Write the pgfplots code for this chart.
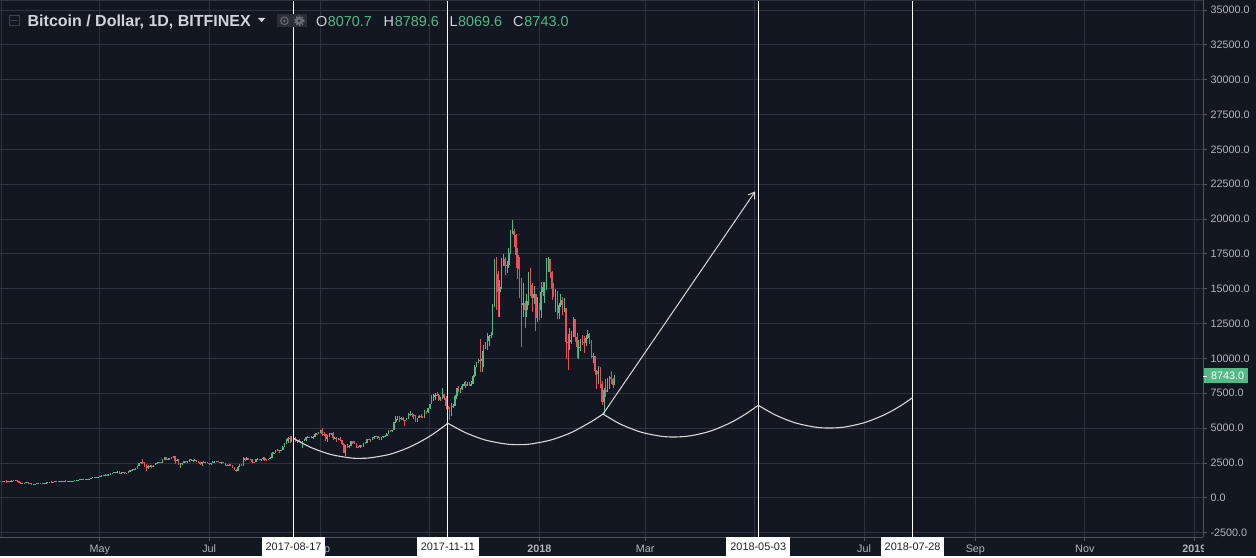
\documentclass[border=0pt]{standalone}
\usepackage{pgfplots}
\pgfplotsset{compat=1.18}
\usepackage{pgfplotstable}
\usepackage{fontspec}
\setmainfont{Liberation Sans}
\usetikzlibrary{arrows.meta}
\definecolor{bg}{HTML}{131722}
\definecolor{gridc}{HTML}{2F3340}
\definecolor{up}{HTML}{53B987}
\definecolor{dn}{HTML}{EB4D5C}
\definecolor{lbl}{HTML}{B2B5BE}
\definecolor{ttl}{HTML}{D1D4DC}
\definecolor{scl}{HTML}{50535E}
\definecolor{arcc}{HTML}{D8D8D8}
\definecolor{boxt}{HTML}{1E222D}
\definecolor{icon}{HTML}{2A2E39}
\definecolor{iconf}{HTML}{6A6D78}

\pgfplotstableread{
d o h l c
-300 1230 1280 1150 1200
-299 1200 1210 1140 1160
-298 1160 1200 1150 1190
-297 1190 1300 1060 1120
-296 1120 1200 1110 1180
-295 1180 1240 1170 1230
-294 1230 1250 1210 1240
-293 1240 1260 1230 1245
-292 1245 1260 1235 1255
-291 1255 1260 1150 1170
-290 1170 1180 1060 1080
-289 1080 1100 960 1000
-288 1000 1060 990 1040
-287 1040 1070 1030 1060
-286 1060 1130 1050 1120
-285 1120 1130 1020 1050
-284 1050 1060 1030 1040
-283 1040 1045 930 960
-282 960 1000 920 990
-281 990 1010 970 1000
-280 1000 1060 990 1050
-279 1050 1070 1030 1060
-278 1060 1070 1030 1050
-277 1050 1060 1030 1045
-276 1045 1090 1040 1085
-275 1085 1100 1070 1095
-274 1095 1110 1080 1100
-273 1100 1160 1090 1150
-272 1150 1170 1120 1140
-271 1140 1150 1110 1130
-270 1130 1200 1125 1195
-269 1195 1210 1180 1190
-268 1190 1200 1170 1185
-267 1185 1220 1180 1210
-266 1210 1225 1200 1215
-265 1215 1240 1210 1235
-264 1235 1245 1220 1230
-263 1230 1240 1180 1195
-262 1195 1220 1190 1210
-261 1210 1230 1200 1220
-260 1220 1230 1210 1225
-259 1225 1250 1210 1245
-258 1245 1270 1240 1265
-257 1265 1290 1260 1285
-256 1285 1330 1280 1320
-255 1320 1350 1310 1340
-254 1340 1350 1300 1335
-253 1335 1350 1310 1340
-252 1340 1360 1320 1350
-251 1350 1380 1340 1375
-250 1375 1430 1370 1420
-249 1420 1480 1410 1470
-248 1470 1490 1420 1450
-247 1450 1480 1440 1470
-246 1470 1510 1460 1500
-245 1500 1600 1480 1580
-244 1580 1620 1560 1600
-243 1600 1650 1580 1640
-242 1640 1700 1600 1650
-241 1650 1680 1580 1620
-240 1620 1680 1600 1670
-239 1670 1750 1650 1720
-238 1720 1800 1700 1790
-237 1790 1850 1770 1820
-236 1820 1880 1800 1860
-235 1860 1920 1820 1880
-234 1880 1890 1720 1760
-233 1760 1830 1700 1810
-232 1810 1840 1780 1820
-231 1820 1830 1700 1760
-230 1760 1800 1720 1780
-229 1780 1900 1770 1880
-228 1880 1980 1860 1960
-227 1960 2050 1950 2030
-226 2030 2100 2010 2090
-225 2090 2150 2050 2100
-224 2100 2300 2050 2250
-223 2250 2500 2250 2480
-222 2480 2600 2450 2580
-221 2580 2800 2400 2550
-220 2550 2600 2200 2350
-219 2350 2400 1950 2150
-218 2150 2380 2100 2280
-217 2280 2350 2200 2300
-216 2300 2350 2150 2200
-215 2200 2350 2180 2330
-214 2330 2500 2320 2480
-213 2480 2550 2450 2530
-212 2530 2600 2500 2560
-211 2560 2580 2500 2540
-210 2540 2750 2530 2730
-209 2730 2950 2720 2900
-208 2900 2920 2700 2720
-207 2720 2830 2680 2800
-206 2800 2850 2770 2820
-205 2820 2920 2800 2900
-204 2900 3000 2850 2980
-203 2980 2990 2400 2650
-202 2650 2780 2620 2700
-201 2700 2800 2350 2450
-200 2450 2500 2150 2470
-199 2470 2520 2350 2500
-198 2500 2650 2480 2630
-197 2630 2650 2500 2550
-196 2550 2650 2530 2620
-195 2620 2780 2600 2750
-194 2750 2800 2620 2680
-193 2680 2730 2600 2700
-192 2700 2750 2680 2710
-191 2710 2720 2550 2600
-190 2600 2650 2500 2550
-189 2550 2580 2350 2450
-188 2450 2600 2300 2590
-187 2590 2620 2500 2570
-186 2570 2600 2520 2550
-185 2550 2560 2470 2480
-184 2480 2500 2380 2420
-183 2420 2520 2380 2500
-182 2500 2620 2480 2570
-181 2570 2650 2550 2600
-180 2600 2640 2550 2620
-179 2620 2640 2580 2600
-178 2600 2600 2480 2500
-177 2500 2560 2450 2550
-176 2550 2560 2480 2490
-175 2490 2500 2300 2330
-174 2330 2400 2250 2310
-173 2310 2400 2250 2380
-172 2380 2400 2320 2340
-171 2340 2350 2150 2200
-170 2200 2210 1980 1990
-169 1990 2050 1850 1950
-168 1950 2250 1950 2230
-167 2230 2400 2200 2350
-166 2350 2450 2300 2330
-165 2330 2900 2300 2850
-164 2850 2850 2620 2700
-163 2700 2900 2700 2850
-162 2850 2860 2700 2780
-161 2780 2800 2700 2750
-160 2750 2780 2500 2580
-159 2580 2600 2480 2570
-158 2570 2800 2570 2750
-157 2750 2850 2730 2800
-156 2800 2820 2700 2740
-155 2740 2780 2650 2760
-154 2760 2900 2740 2870
-153 2870 2930 2650 2730
-152 2730 2760 2650 2700
-151 2700 2820 2700 2800
-150 2800 2900 2780 2870
-149 2870 3300 2870 3250
-148 3250 3280 3180 3220
-147 3220 3420 3200 3400
-146 3400 3480 3350 3420
-145 3420 3430 3250 3360
-144 3360 3450 3330 3420
-143 3420 3700 3400 3650
-142 3650 3950 3620 3880
-141 3880 4200 3850 4070
-140 4070 4330 3950 4320
-139 4320 4400 3900 4200
-138 4200 4400 4000 4380
-137 4380 4480 4250 4300
-136 4300 4380 3980 4120
-135 4120 4180 3950 4150
-134 4150 4200 4050 4080
-133 4080 4100 3950 4020
-132 4020 4100 3600 4100
-131 4100 4250 4080 4150
-130 4150 4350 4100 4330
-129 4330 4470 4330 4360
-128 4360 4380 4300 4340
-127 4340 4400 4330 4370
-126 4370 4400 4200 4380
-125 4380 4650 4350 4600
-124 4600 4650 4500 4580
-123 4580 4750 4580 4700
-122 4700 4900 4680 4880
-121 4880 4980 4400 4600
-120 4600 4720 4450 4580
-119 4580 4600 4100 4250
-118 4250 4500 4000 4400
-117 4400 4650 4380 4600
-116 4600 4680 4500 4620
-115 4620 4700 4150 4300
-114 4300 4350 4200 4320
-113 4320 4330 4000 4200
-112 4200 4300 4150 4220
-111 4220 4350 4050 4150
-110 4150 4150 3800 3880
-109 3880 3900 3250 3250
-108 3250 3800 3000 3700
-107 3700 3850 3550 3690
-106 3690 3780 3550 3700
-105 3700 4100 3700 4080
-104 4080 4100 3850 3920
-103 3920 4050 3850 3900
-102 3900 3900 3600 3620
-101 3620 3750 3550 3610
-100 3610 3800 3600 3780
-99 3780 3800 3650 3680
-98 3680 3950 3680 3930
-97 3930 3980 3880 3900
-96 3900 4230 3900 4200
-95 4200 4250 4120 4180
-94 4180 4200 4000 4170
-93 4170 4380 4150 4350
-92 4350 4400 4200 4380
-91 4380 4450 4350 4400
-90 4400 4450 4200 4300
-89 4300 4350 4150 4220
-88 4220 4380 4180 4350
-87 4350 4450 4300 4400
-86 4400 4500 4350 4450
-85 4450 4650 4400 4600
-84 4600 4880 4550 4800
-83 4800 4900 4750 4790
-82 4790 4900 4750 4850
-81 4850 5450 4850 5430
-80 5430 5850 5400 5650
-79 5650 5850 5600 5820
-78 5820 5850 5450 5700
-77 5700 5800 5600 5750
-76 5750 5780 5500 5600
-75 5600 5600 5150 5580
-74 5580 5750 5550 5700
-73 5700 6050 5650 6000
-72 6000 6200 5900 6010
-71 6010 6100 5800 5950
-70 5950 6000 5650 5900
-69 5900 5950 5450 5500
-68 5500 5750 5450 5730
-67 5730 5950 5700 5890
-66 5890 6000 5700 5780
-65 5780 5850 5700 5750
-64 5750 6300 5700 6150
-63 6150 6200 6000 6130
-62 6130 6450 6100 6450
-61 6450 6750 6400 6750
-60 6750 7350 6750 7050
-59 7050 7450 6950 7200
-58 7200 7500 7000 7400
-57 7400 7600 7300 7380
-56 7380 7450 6950 7000
-55 7000 7250 6950 7150
-54 7150 7900 7100 7450
-53 7450 7450 7050 7150
-52 7150 7300 6400 6600
-51 6600 6850 6200 6350
-50 6350 6500 5550 5900
-49 5900 6800 5850 6550
-48 6550 6750 6450 6600
-47 6600 7350 6600 7300
-46 7300 7900 7100 7850
-45 7850 8000 7600 7750
-44 7750 7850 7550 7800
-43 7800 8150 7700 8050
-42 8050 8300 8000 8200
-41 8200 8400 7900 8050
-40 8050 8300 8050 8200
-39 8200 8300 8000 8050
-38 8050 8350 8000 8200
-37 8200 8800 8150 8750
-36 8750 9500 8700 9350
-35 9350 9750 9350 9700
-34 9700 9950 9650 9900
-33 9900 11400 9000 9800
-32 9800 10500 9000 9950
-31 9950 10950 9400 10860
-30 10860 11150 10700 10900
-29 10900 11850 10600 11250
-28 11250 11650 10900 11600
-27 11600 11900 11450 11700
-26 11700 13900 11650 13750
-25 13750 17100 13700 16850
-24 16850 17250 13500 16050
-23 16050 16300 13000 14800
-22 14800 15600 13000 15100
-21 15100 17200 15000 16800
-20 16800 17500 16600 17150
-19 17150 17300 16000 16600
-18 16600 17000 16150 16700
-17 16700 17950 16500 17600
-16 17600 19200 17500 19100
-15 19100 19900 18900 19150
-14 19150 19300 18000 18850
-13 18850 18950 16500 17400
-12 17400 17900 15700 16450
-11 16450 17300 14300 15600
-10 15600 15800 10800 13800
-9 13800 15400 13000 14000
-8 14000 14100 12200 13500
-7 13500 14600 13000 14100
-6 14100 16200 13800 15800
-5 15800 16500 14500 15300
-4 15300 15400 13300 14300
-3 14300 15200 13900 14650
-2 14650 14650 12000 12900
-1 12900 14400 12600 13880
0 13880 14000 12750 13440
1 13440 15500 12900 14780
2 14780 15500 14500 15110
3 15110 15500 14000 15150
4 15150 17200 14900 16930
5 16930 17250 16200 17120
6 17120 17130 15800 16200
7 16200 16300 14200 14950
8 14950 15400 14400 14450
9 14450 14950 13300 14800
10 14800 14850 12800 13250
11 13250 14000 12800 13800
12 13800 14600 13700 14180
13 14180 14400 13100 13550
14 13550 14300 13350 13600
15 13600 13650 9950 11200
16 11200 11750 9200 11150
17 11150 12150 10600 11300
18 11300 11950 11000 11600
19 11600 13000 11550 12800
20 12800 12800 11200 11550
21 11550 11850 10050 10800
22 10800 11300 9950 10850
23 10850 11400 10550 11200
24 11200 11650 10950 11180
25 11180 11600 10400 11100
26 11100 11650 10900 11450
27 11450 12050 11400 11780
28 11780 11850 11050 11200
29 11200 11300 10000 10100
30 10100 10400 9700 10150
31 10150 10200 8800 9100
32 9100 9150 7800 8850
33 8850 9450 8200 9200
34 9200 9400 7900 8200
35 8200 8400 6650 6900
36 6900 7900 6000 7700
37 7700 8550 7200 7600
38 7600 8600 7600 8250
39 8250 8750 7800 8700
40 8700 9100 8200 8550
41 8550 8580 7850 8070
42 8070.7 8789.6 8069.6 8743
}\btc

\begin{document}
\begin{tikzpicture}[x=1pt,y=1pt]
\fill[bg] (0,0) rectangle (1256,556);
\begin{axis}[
  at={(0pt,19pt)}, anchor=south west,
  scale only axis, width=1203pt, height=537pt,
  xmin=-300.3, xmax=369.9, ymin=-2833, ymax=35681,
  axis x line*=bottom, axis y line*=right,
  axis line style={scl, line width=1pt},
  grid=major, major grid style={gridc, line width=0.9pt},
  xtick={-245,-184,-122,-61,0,59,120,181,243,304,365},
  xticklabels={May,Jul,Sep,{},\textbf{2018},Mar,{},Jul,Sep,Nov,\textbf{2019}},
  ytick={-2500,0,...,35000},
  scaled y ticks=false,
  yticklabel={\pgfmathprintnumber[fixed,fixed zerofill,precision=1,1000 sep={}]{\tick}},
  /pgf/number format/assume math mode=true,
  tick align=outside, major tick length=4pt,
  tick style={scl, line width=0.8pt},
  ticklabel style={lbl, font=\fontsize{10.8}{12}\selectfont},
  yticklabel style={anchor=west},
  clip=true,
]
% up candles
\addplot[draw=none, no markers, forget plot,
  error bars/.cd, y dir=plus, y explicit, error mark=none,
  error bar style={draw=up, line width=0.75pt}]
  table[x=d, y expr={\thisrow{c}>=\thisrow{o} ? \thisrow{l} : nan},
        y error expr={\thisrow{h}-\thisrow{l}}] {\btc};
\addplot[draw=none, no markers, forget plot,
  error bars/.cd, y dir=plus, y explicit, error mark=none,
  error bar style={draw=up, line width=1.55pt}]
  table[x=d, y expr={\thisrow{c}>=\thisrow{o} ? \thisrow{o} : nan},
        y error expr={\thisrow{c}-\thisrow{o}}] {\btc};
% down candles
\addplot[draw=none, no markers, forget plot,
  error bars/.cd, y dir=plus, y explicit, error mark=none,
  error bar style={draw=dn, line width=0.75pt}]
  table[x=d, y expr={\thisrow{c}<\thisrow{o} ? \thisrow{l} : nan},
        y error expr={\thisrow{h}-\thisrow{l}}] {\btc};
\addplot[draw=none, no markers, forget plot,
  error bars/.cd, y dir=plus, y explicit, error mark=none,
  error bar style={draw=dn, line width=1.55pt}]
  table[x=d, y expr={\thisrow{c}<\thisrow{o} ? \thisrow{c} : nan},
        y error expr={\thisrow{o}-\thisrow{c}}] {\btc};
% vertical date lines
\addplot[white, line width=1.2pt] coordinates {(-137,-4000) (-137,40000)};
\addplot[white, line width=1.2pt] coordinates {(-51,-4000) (-51,40000)};
\addplot[white, line width=1.2pt] coordinates {(122,-4000) (122,40000)};
\addplot[white, line width=1.2pt] coordinates {(208,-4000) (208,40000)};
% arcs
\addplot[arcc, line width=1.1pt, smooth] coordinates {
 (-137.0,4267) (-127.6,3629) (-116.4,3116) (-105.3,2862) (-100.0,2833)
 (-94.2,2869) (-83.0,3134) (-71.9,3665) (-60.7,4447) (-51.0,5350)};
\addplot[arcc, line width=1.1pt, smooth] coordinates {
 (-51.0,5350) (-41.2,4676) (-30.1,4145) (-18.9,3866) (-11.8,3815)
 (-5.0,3858) (6.1,4138) (17.3,4655) (28.4,5422) (35.5,6010)};
\addplot[arcc, line width=1.1pt, smooth] coordinates {
 (35.5,6010) (45.1,5293) (56.3,4726) (67.4,4425) (75.1,4361)
 (84.1,4447) (95.3,4784) (106.4,5379) (114.8,5996) (122.0,6640)};
\addplot[arcc, line width=1.1pt, smooth] coordinates {
 (122.0,6640) (131.5,5946) (142.6,5379) (153.8,5071) (161.8,5006)
 (170.5,5085) (181.6,5408) (192.8,5989) (201.2,6591) (208.0,7186)};
% arrow
\addplot[arcc, line width=1pt, -{Straight Barb[length=6pt,width=8pt]}] coordinates {(35.5,6010) (120.3,21980)};
\coordinate (v1) at (axis cs:-137,-2833);
\coordinate (v2) at (axis cs:-51,-2833);
\coordinate (v3) at (axis cs:122,-2833);
\coordinate (v4) at (axis cs:208,-2833);
\coordinate (pl) at (axis cs:369.9,8743);
\end{axis}
% cover overflow in the price-scale corner
\fill[bg] (1203.6,0) rectangle (1256,18.5);
\draw[gridc, line width=0.8pt] (0,555.6) -- (1203,555.6);
\draw[gridc, line width=0.8pt] (1.2,19) -- (1.2,556);
% date boxes
\foreach \p/\t in {v1/2017-08-17, v2/2017-11-11, v3/2018-05-03, v4/2018-07-28}{
  \node[fill=white, text=boxt, font=\fontsize{10.9}{12}\selectfont, inner xsep=4pt, inner ysep=0pt,
        minimum height=19pt, anchor=north] at (\p) {\t};
}
% price label
\node[fill=up, text=white, font=\fontsize{10.8}{12}\selectfont, anchor=west, inner xsep=0pt, inner ysep=0pt,
      minimum height=15pt, minimum width=44pt, text width=44pt, align=left] at ([xshift=0.4pt]pl) {\hspace{7.4pt}8743.0};
\draw[white, line width=0.8pt] (1203.4,0|-pl) -- (1206.5,0|-pl);
% header
\draw[iconf!130, line width=0.9pt] (8.6,530.6) rectangle (19,540.6);
\draw[iconf!130, line width=0.9pt] (10.6,535.6) -- (17,535.6);
\node[anchor=base west, inner sep=0pt, text=ttl, font=\fontsize{16}{18}\selectfont\bfseries] at (27,530) {Bitcoin / Dollar, 1D, BITFINEX};
\fill[ttl] (257.5,538.5) -- (265,538.5) -- (261.25,534.5) -- cycle;
\fill[icon] (276.5,529) rectangle (306.5,542.5);
\draw[iconf, line width=1pt] (284,535.7) circle (3.8pt);
\fill[iconf] (284,535.7) circle (1.4pt);
\fill[iconf] (298.8,535.7) circle (4pt);
\draw[iconf, line width=1.6pt, dash pattern=on 1.4pt off 1.6pt] (298.8,535.7) circle (4.6pt);
\fill[icon] (298.8,535.7) circle (1.6pt);
\begin{scope}[every node/.style={anchor=base west, inner sep=0pt, font=\fontsize{14.4}{16}\selectfont}]
\node[text=ttl] at (315.5,530) {O};
\node[text=up] at (327.3,530) {8070.7};
\node[text=ttl] at (383,530) {H};
\node[text=up] at (394.3,530) {8789.6};
\node[text=ttl] at (449,530) {L};
\node[text=up] at (457.6,530) {8069.6};
\node[text=ttl] at (512.5,530) {C};
\node[text=up] at (524,530) {8743.0};
\end{scope}
\end{tikzpicture}
\end{document}
